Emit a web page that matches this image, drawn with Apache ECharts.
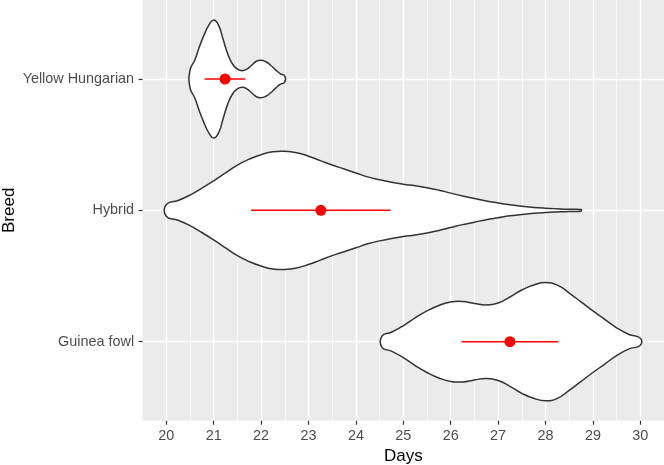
<!DOCTYPE html>
<html>
<head>
<meta charset="utf-8">
<script src="https://cdn.jsdelivr.net/npm/echarts@6/dist/echarts.min.js"></script>
<style>
html,body{margin:0;padding:0;background:#fff;}
#chart{width:664px;height:465px;}
</style>
</head>
<body>
<div id="chart"></div>
<script>
// Categories (bottom to top)
const breeds = ['Guinea fowl', 'Hybrid', 'Yellow Hungarian'];
const xTicks = [20, 21, 22, 23, 24, 25, 26, 27, 28, 29, 30];

// Violin outlines: days and relative density (half-width)
const gfDays = [24.55, 24.75, 25.0, 25.25, 25.5, 25.75, 26.0, 26.25, 26.5, 26.75, 27.0, 27.25, 27.5, 27.75, 28.0, 28.25, 28.5, 28.75, 29.0, 29.25, 29.5, 29.75, 30.0];
const gfDens = [5.7, 9.5, 16, 24, 31, 36.5, 40, 40.5, 38.5, 37, 39, 45, 52, 57, 59.5, 57, 49, 40, 31, 22.5, 14, 7.5, 3.5];

const hyDays = [20.0, 20.25, 20.5, 20.75, 21.0, 21.25, 21.5, 21.75, 22.0, 22.25, 22.5, 22.75, 23.0, 23.25, 23.5, 23.75, 24.0, 24.25, 24.5, 24.75, 25.0, 25.25, 25.5, 25.75, 26.0, 26.25, 26.5, 26.75, 27.0, 27.25, 27.5, 27.75, 28.0, 28.25, 28.5, 28.75];
const hyDens = [6, 10, 15.5, 22.5, 30, 38, 46, 52, 56.5, 59.5, 60, 58.5, 55, 50.5, 46, 42, 38, 34, 31, 28.5, 26.5, 25, 23, 20.5, 17.5, 14.5, 12, 9.5, 7.5, 5.6, 4.1, 3, 2.2, 1.6, 1.1, 0.8];

const yhDays = [20.5, 20.6, 20.7, 20.8, 20.9, 21.0, 21.1, 21.2, 21.3, 21.4, 21.5, 21.6, 21.7, 21.8, 21.9, 22.0, 22.1, 22.2, 22.3, 22.4, 22.5];
const yhDens = [9, 19, 33, 45, 55, 60, 55, 40, 25, 15, 10, 8.5, 10, 14, 18, 19, 17.5, 14, 9.5, 5.5, 3];

// Mean and standard deviation per breed
const means = [27.25, 23.26, 21.24];
const sds = [1.02, 1.47, 0.43];

const profiles = [
  {days: gfDays, dens: gfDens},
  {days: hyDays, dens: hyDens},
  {days: yhDays, dens: yhDens}
];

const FONT = "'Liberation Sans', Arial, sans-serif";
const chart = echarts.init(document.getElementById('chart'), null, {renderer: 'canvas'});

const option = {
  backgroundColor: '#ffffff',
  animation: false,
  grid: [
    {left: 142.6, right: 0, top: 0, bottom: 44.3, show: true, backgroundColor: '#EBEBEB', borderWidth: 0, containLabel: false, outerBoundsMode: 'none'},
    {left: 166.3, right: 23.7, top: 0, bottom: 44.3, show: false, containLabel: false, outerBoundsMode: 'none'},
    {left: 142.6, right: 0, top: 79, bottom: 123.3, show: false, containLabel: false, outerBoundsMode: 'none'}
  ],
  xAxis: [
    {gridIndex: 0, type: 'value', min: 19.5, max: 30.5, interval: 1,
     axisLine: {show: false}, axisTick: {show: false}, axisLabel: {show: false},
     splitLine: {show: true, showMinLine: false, showMaxLine: false, lineStyle: {color: '#ffffff', width: 0.7}}},
    {gridIndex: 1, type: 'value', min: xTicks[0], max: xTicks[xTicks.length - 1], interval: 1,
     axisLine: {show: false},
     axisTick: {show: true, length: 4, lineStyle: {color: '#333333', width: 1.2}},
     axisLabel: {show: true, margin: 8, color: '#4D4D4D', fontSize: 14.4, fontFamily: FONT},
     splitLine: {show: true, lineStyle: {color: '#ffffff', width: 1.4}},
     name: 'Days', nameLocation: 'middle', nameGap: 27, nameMoveOverlap: false,
     nameTextStyle: {color: '#000000', fontSize: 17, fontFamily: FONT}},
    {gridIndex: 2, type: 'value', min: 19.5, max: 30.5, show: false}
  ],
  yAxis: [
    {gridIndex: 0, type: 'value', min: 0, max: 1, show: false},
    {gridIndex: 1, type: 'value', min: 0, max: 1, show: false},
    {gridIndex: 2, type: 'category', data: breeds, boundaryGap: false,
     axisLine: {show: false},
     axisTick: {show: true, length: 4, interval: 0, lineStyle: {color: '#333333', width: 1.2}},
     axisLabel: {show: true, margin: 8.5, interval: 0, color: '#4D4D4D', fontSize: 14.4, fontFamily: FONT},
     splitLine: {show: true, interval: 0, lineStyle: {color: '#ffffff', width: 1.4}},
     name: 'Breed', nameLocation: 'middle', nameGap: 125, nameRotate: 90, nameMoveOverlap: false,
     nameTextStyle: {color: '#000000', fontSize: 17, fontFamily: FONT}}
  ],
  series: [
    {
      type: 'custom', xAxisIndex: 2, yAxisIndex: 2, z: 3,
      data: breeds.map((b, i) => [means[i], i]),
      encode: {x: 0, y: 1},
      renderItem: function (params, api) {
        const i = params.dataIndex;
        const p = profiles[i];
        const band = api.size([0, 1])[1];
        const maxD = Math.max.apply(null, p.dens);
        const k = 0.45 * band / maxD;
        const top = [], bot = [];
        for (let j = 0; j < p.days.length; j++) {
          const c = api.coord([p.days[j], i]);
          top.push([c[0], c[1] - p.dens[j] * k]);
          bot.push([c[0], c[1] + p.dens[j] * k]);
        }
        const pts = top.concat(bot.reverse());
        return {
          type: 'polygon',
          shape: {points: pts, smooth: 0.5},
          style: {fill: '#ffffff', stroke: '#333333', lineWidth: 1.5}
        };
      }
    },
    {
      type: 'custom', xAxisIndex: 2, yAxisIndex: 2, z: 4,
      data: breeds.map((b, i) => [means[i], i]),
      encode: {x: 0, y: 1},
      renderItem: function (params, api) {
        const i = params.dataIndex;
        const a = api.coord([means[i] - sds[i], i]);
        const b = api.coord([means[i] + sds[i], i]);
        return {
          type: 'line',
          shape: {x1: a[0], y1: a[1], x2: b[0], y2: b[1]},
          style: {stroke: '#FF0000', lineWidth: 1.5}
        };
      }
    },
    {
      type: 'scatter', xAxisIndex: 2, yAxisIndex: 2, z: 5,
      data: breeds.map((b, i) => [means[i], i]),
      symbol: 'circle', symbolSize: 11,
      itemStyle: {color: '#FF0000', opacity: 1}
    }
  ]
};
chart.setOption(option);
</script>
</body>
</html>
